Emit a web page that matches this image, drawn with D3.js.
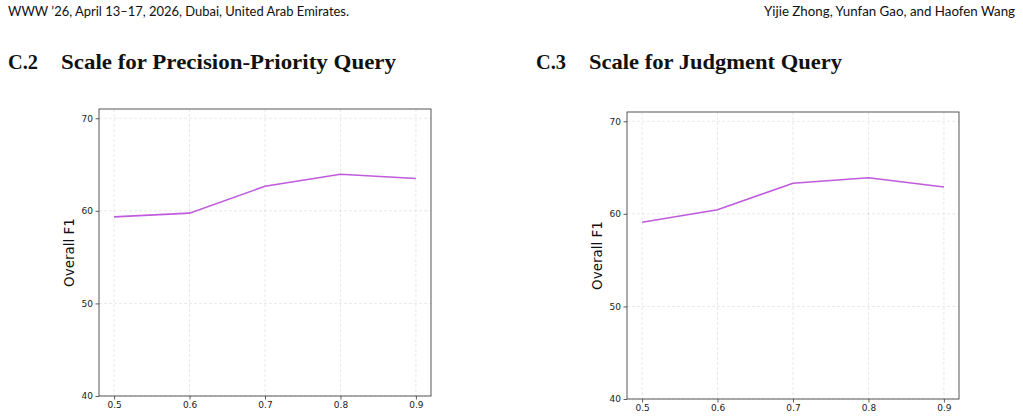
<!DOCTYPE html>
<html>
<head>
<meta charset="utf-8">
<script src="https://cdn.jsdelivr.net/npm/d3@7"></script>
<style>
  body { margin: 0; background: #fff; }
  svg { display: block; }
</style>
</head>
<body>
<div id="page"></div>
<script>
// data
const scales = [0.5, 0.6, 0.7, 0.8, 0.9]
const precisionF1 = [59.35, 59.75, 62.65, 63.95, 63.5]
const judgmentF1 = [59.1, 60.45, 63.3, 63.9, 62.9]
const yTicks = [40, 50, 60, 70]
const xTicks = [0.5, 0.6, 0.7, 0.8, 0.9]

const headerLeft = 'WWW \u201926, April 13\u201317, 2026, Dubai, United Arab Emirates.'
const headerRight = 'Yijie Zhong, Yunfan Gao, and Haofen Wang'
const sections = [
	{num: 'C.2', title: 'Scale for Precision-Priority Query', values: precisionF1},
	{num: 'C.3', title: 'Scale for Judgment Query', values: judgmentF1}
]

const W = 1023, H = 419
const serif = '"Liberation Serif", serif'
const sans = '"DejaVu Sans", sans-serif'
const headerFont = '"Lato", "Liberation Sans", sans-serif'

const svg = d3.select('#page').append('svg').attr('width', W).attr('height', H)

// page header
svg.append('text').attr('x', 8).attr('y', 16)
	.attr('textLength', 341).attr('lengthAdjust', 'spacingAndGlyphs')
	.style('font-family', headerFont).style('font-size', '12.5px').attr('fill', '#111')
	.text(headerLeft)
svg.append('text').attr('x', 764).attr('y', 16)
	.attr('textLength', 251).attr('lengthAdjust', 'spacingAndGlyphs')
	.style('font-family', headerFont).style('font-size', '12.5px').attr('fill', '#111')
	.text(headerRight)

// panel layout (axes box in page pixels)
const panels = [
	{titleX: 8, titleLen: 335, box: {left: 99, top: 109, right: 431, bottom: 396}},
	{titleX: 536, titleLen: 253, box: {left: 627, top: 112, right: 959, bottom: 399}}
]

panels.forEach((p, i) => {
	const sec = sections[i]
	const g = svg.append('g')

	// section heading
	g.append('text').attr('x', p.titleX).attr('y', 69)
		.attr('textLength', 30).attr('lengthAdjust', 'spacingAndGlyphs')
		.style('font-family', serif).style('font-weight', 'bold').style('font-size', '21px').attr('fill', '#111')
		.text(sec.num)
	g.append('text').attr('x', p.titleX + 53).attr('y', 69)
		.attr('textLength', p.titleLen).attr('lengthAdjust', 'spacingAndGlyphs')
		.style('font-family', serif).style('font-weight', 'bold').style('font-size', '21px').attr('fill', '#111')
		.text(sec.title)

	const b = p.box
	const x = d3.scaleLinear().domain([0.48, 0.92]).range([b.left, b.right])
	const y = d3.scaleLinear().domain([40, 71]).range([b.bottom, b.top])

	// grid
	g.append('g').selectAll('line').data(xTicks).enter().append('line')
		.attr('x1', d => x(d)).attr('x2', d => x(d)).attr('y1', b.top).attr('y2', b.bottom)
		.attr('stroke', '#b0b0b0').attr('stroke-opacity', 0.35).attr('stroke-dasharray', '3,2').attr('stroke-width', 0.8)
	g.append('g').selectAll('line').data(yTicks).enter().append('line')
		.attr('y1', d => y(d)).attr('y2', d => y(d)).attr('x1', b.left).attr('x2', b.right)
		.attr('stroke', '#b0b0b0').attr('stroke-opacity', 0.35).attr('stroke-dasharray', '3,2').attr('stroke-width', 0.8)

	// line
	const line = d3.line().x((d, k) => x(scales[k])).y(d => y(d))
	g.append('path').datum(sec.values).attr('d', line)
		.attr('fill', 'none').attr('stroke', '#bf5bdc').attr('stroke-width', 1.6)

	// axes
	const xAxis = g.append('g').attr('transform', `translate(0,${b.bottom})`)
		.call(d3.axisBottom(x).tickValues(xTicks).tickSize(3.5).tickPadding(2.5).tickFormat(d3.format('.1f')))
	const yAxis = g.append('g').attr('transform', `translate(${b.left},0)`)
		.call(d3.axisLeft(y).tickValues(yTicks).tickSize(3.5).tickPadding(2.5))
	;[xAxis, yAxis].forEach(a => {
		a.select('.domain').remove()
		a.selectAll('line').attr('stroke', '#333').attr('stroke-width', 0.8)
		a.selectAll('text').style('font-family', sans).style('font-size', '9px').attr('fill', '#222')
	})

	// frame
	g.append('rect').attr('x', b.left).attr('y', b.top)
		.attr('width', b.right - b.left).attr('height', b.bottom - b.top)
		.attr('fill', 'none').attr('stroke', '#444').attr('stroke-width', 0.9)

	// y label
	g.append('text')
		.attr('transform', `translate(${b.left - 25},${(b.top + b.bottom) / 2}) rotate(-90)`)
		.attr('text-anchor', 'middle')
		.style('font-family', sans).style('font-size', '13.5px').attr('fill', '#111')
		.text('Overall F1')
})
</script>
</body>
</html>
